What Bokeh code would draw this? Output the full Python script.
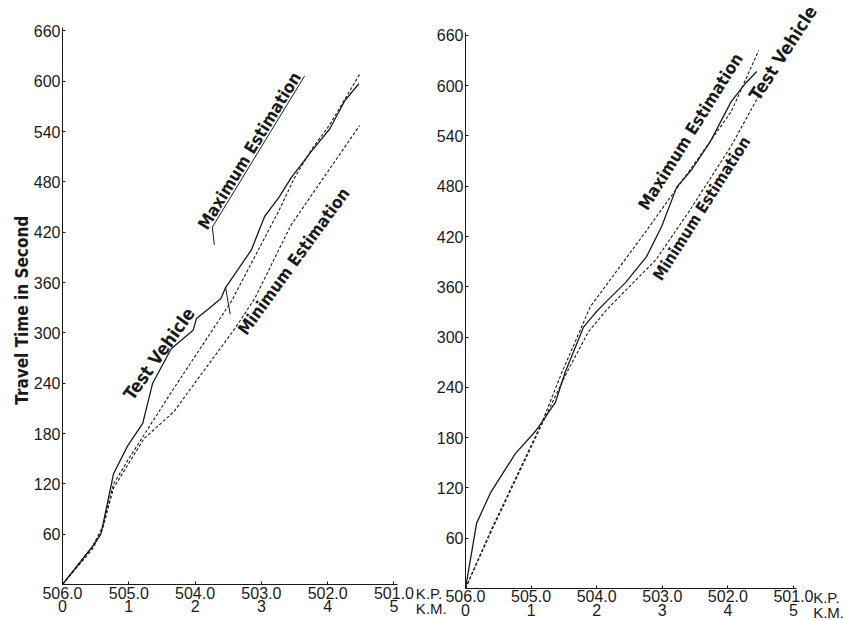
from bokeh.plotting import figure
from bokeh.models import Range1d, FixedTicker, Label, LinearAxis
from bokeh.embed import file_html
from bokeh.resources import INLINE
import math

# ---------------- data ----------------
km_ticks = [0, 1, 2, 3, 4, 5]
kp_labels = ["506.0", "505.0", "504.0", "503.0", "502.0", "501.0"]
km_labels = ["0", "1", "2", "3", "4", "5"]
y_ticks = [60, 120, 180, 240, 300, 360, 420, 480, 540, 600, 660]

# left panel
left_tv_km = [0, 0.45, 0.58, 0.77, 0.98, 1.21, 1.36, 1.64, 1.97, 2.02, 2.21, 2.39, 2.46, 2.85, 3.05, 3.26, 3.45, 3.76, 4.03, 4.26, 4.47]
left_tv_s = [0, 45, 60, 132, 165, 192, 240, 281, 303, 317, 329, 341, 354, 399, 439, 461, 485, 517, 543, 577, 597]
left_max_km = [0, 0.45, 0.6, 0.77, 1.0, 1.68, 2.05, 2.55, 3.26, 3.5, 3.76, 4.03, 4.48]
left_max_s = [0, 45, 68, 120, 150, 234, 278, 338, 445, 485, 519, 548, 608]
left_min_km = [0, 0.45, 0.6, 0.77, 1.23, 1.68, 2.05, 2.6, 2.9, 3.45, 4.48]
left_min_s = [0, 42, 65, 115, 174, 206, 246, 305, 341, 429, 547]
left_leader_km = [2.29, 2.26, 3.65]
left_leader_s = [405, 426, 606]
left_hook_km = [2.46, 2.53]
left_hook_s = [354, 322]

# right panel
right_tv_km = [0, 0.17, 0.38, 0.76, 1.07, 1.16, 1.37, 1.52, 1.8, 1.98, 2.18, 2.44, 2.76, 2.99, 3.22, 3.45, 3.73, 4.05, 4.27, 4.44]
right_tv_s = [0, 78, 114, 161, 188, 198, 222, 258, 312, 329, 345, 365, 396, 432, 479, 500, 533, 581, 603, 617]
right_max_km = [0, 0.38, 1.16, 1.47, 1.77, 1.9, 2.74, 3.4, 4.05, 4.47]
right_max_s = [0, 68, 197, 258, 312, 336, 425, 497, 569, 642]
right_min_km = [0, 0.38, 1.16, 1.52, 1.87, 2.18, 2.9, 3.4, 4.05, 4.47]
right_min_s = [0, 66, 195, 254, 306, 335, 392, 449, 528, 588]

INK = "#1a1a1a"
TICK_FONT = "Liberation Sans"
BOLD_FONT = "'Liberation Sans Narrow', 'DejaVu Sans Condensed', 'Roboto', sans-serif"

p = figure(width=845, height=620, output_backend="svg", toolbar_location=None,
           x_range=Range1d(-0.935, 11.810), y_range=Range1d(-42.9, 696.2),
           x_axis_location=None, y_axis_location=None,
           min_border_left=0, min_border_right=0, min_border_top=0, min_border_bottom=0)
p.extra_x_ranges = {"r": Range1d(-7.088, 5.793)}
p.extra_y_ranges = {"r": Range1d(-38.2, 701.7)}
p.outline_line_color = None
p.grid.visible = False
p.background_fill_color = "white"
p.border_fill_color = "white"


def style_y(ax):
    ax.ticker = FixedTicker(ticks=y_ticks)
    ax.fixed_location = 0
    ax.bounds = (0, 664)
    ax.major_tick_in = 3
    ax.major_tick_out = 0
    ax.minor_tick_line_color = None
    ax.axis_line_color = INK
    ax.major_tick_line_color = INK
    ax.major_label_text_font = TICK_FONT
    ax.major_label_text_font_size = "16px"
    ax.major_label_text_color = INK
    ax.major_label_standoff = 2


def style_x(ax):
    ax.ticker = FixedTicker(ticks=km_ticks)
    ax.fixed_location = 0
    ax.bounds = (0, 5.05)
    ax.major_label_overrides = {k: f"{a}\n{b}" for k, a, b in zip(km_ticks, kp_labels, km_labels)}
    ax.major_tick_in = 3
    ax.major_tick_out = 0
    ax.minor_tick_line_color = None
    ax.axis_line_color = INK
    ax.major_tick_line_color = INK
    ax.major_label_text_font = TICK_FONT
    ax.major_label_text_font_size = "16px"
    ax.major_label_text_color = INK
    ax.major_label_text_line_height = 0.8
    ax.major_label_standoff = 0


yl = LinearAxis()
style_y(yl)
p.add_layout(yl, "left")
xl = LinearAxis()
style_x(xl)
p.add_layout(xl, "below")

yr = LinearAxis(x_range_name="r", y_range_name="r")
style_y(yr)
p.add_layout(yr, "left")
xr = LinearAxis(x_range_name="r", y_range_name="r")
style_x(xr)
p.add_layout(xr, "below")


def add_text(x, y, text, angle_deg, size, rng="default", align="center", baseline="middle", bold=True, lh=1.2):
    p.add_layout(Label(x=x, y=y, text=text, angle=math.radians(angle_deg),
                       x_range_name=rng, y_range_name=rng,
                       text_font=BOLD_FONT if bold else TICK_FONT,
                       text_font_style="bold" if bold else "normal", text_font_size=size,
                       text_color=INK, text_align=align, text_baseline=baseline,
                       text_line_height=lh))


# unit markers at the end of each distance axis
add_text(5.33, -1, "K.P.\nK.M.", 0, "15px", align="left", baseline="top", bold=False, lh=0.85)
add_text(5.30, -1, "K.P.\nK.M.", 0, "15px", rng="r", align="left", baseline="top", bold=False, lh=0.85)

# y title
add_text(-0.618, 327, "Travel Time in Second", 90, "17px")

# left panel
p.line(left_tv_km, left_tv_s, line_color=INK, line_width=1.3)
p.line(left_max_km, left_max_s, line_color=INK, line_width=1.1, line_dash="3 2")
p.line(left_min_km, left_min_s, line_color=INK, line_width=1.1, line_dash="3 2")
p.line(left_leader_km, left_leader_s, line_color=INK, line_width=1)
p.line(left_hook_km, left_hook_s, line_color=INK, line_width=1)
add_text(2.84, 520, "Maximum  Estimation", 58.5, "17px")
add_text(3.51, 388, "Minimum  Estimation", 54, "17px")
add_text(1.48, 278, "Test  Vehicle", 54.5, "18px")

# right panel
p.line(right_tv_km, right_tv_s, line_color=INK, line_width=1.3, x_range_name="r", y_range_name="r")
p.line(right_max_km, right_max_s, line_color=INK, line_width=1.1, line_dash="3 2", x_range_name="r", y_range_name="r")
p.line(right_min_km, right_min_s, line_color=INK, line_width=1.1, line_dash="3 2", x_range_name="r", y_range_name="r")
add_text(3.45, 548, "Maximum  Estimation", 58, "17px", rng="r")
add_text(3.62, 456, "Minimum  Estimation", 57.5, "16px", rng="r")
add_text(4.86, 642, "Test  Vehicle", 57, "18px", rng="r")

open("out.html", "w").write(file_html(p, INLINE))
